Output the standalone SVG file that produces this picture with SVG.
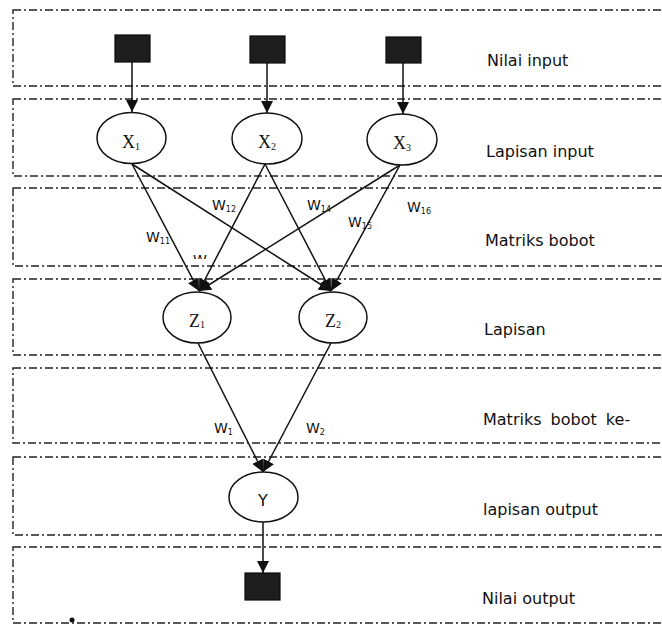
<svg xmlns="http://www.w3.org/2000/svg" width="662" height="626" viewBox="0 0 662 626">
<style>
.band{fill:none;stroke:#222;stroke-width:1.4;stroke-dasharray:8 3 2 3}
.node{fill:#fff;stroke:#111;stroke-width:1.5}
.sq{fill:#1e1e1e;stroke:#0a0a0a;stroke-width:1.2}
.conn{stroke:#111;stroke-width:1.5;fill:none}
.lbl{font-family:"DejaVu Sans","Liberation Sans",sans-serif;font-size:16px;fill:#111}
.ser{font-family:"Liberation Serif","DejaVu Serif",serif;font-size:18px;fill:#111}
.sub{font-size:10px}
.w{font-family:"DejaVu Sans","Liberation Sans",sans-serif;font-size:14px;fill:#111}
.ws{font-size:8px}
</style>
<defs>
<marker id="ah" viewBox="0 0 10 10" refX="10" refY="5" markerWidth="12" markerHeight="12" markerUnits="userSpaceOnUse" orient="auto">
<path d="M0,0 L10,5 L0,10 z" fill="#111"/>
</marker>
<clipPath id="cw"><rect x="185" y="250" width="30" height="9"/></clipPath>
</defs>
<rect width="662" height="626" fill="#fff"/>
<g id="bands">
<rect class="band" x="13" y="10" width="670" height="76"/>
<rect class="band" x="13" y="99" width="670" height="77"/>
<rect class="band" x="13" y="188" width="670" height="78"/>
<rect class="band" x="13" y="279" width="670" height="76"/>
<rect class="band" x="13" y="368" width="670" height="75"/>
<rect class="band" x="13" y="457" width="670" height="78"/>
<rect class="band" x="13" y="547" width="670" height="76"/>
<circle cx="72" cy="620" r="2.5" fill="#111"/>
</g>
<g id="band-labels">
<text class="lbl" x="487" y="66">Nilai input</text>
<text class="lbl" x="486" y="157">Lapisan input</text>
<text class="lbl" x="485" y="246">Matriks bobot</text>
<text class="lbl" x="484" y="335">Lapisan</text>
<text class="lbl" x="483" y="425" word-spacing="4">Matriks bobot ke-</text>
<text class="lbl" x="483" y="515">lapisan output</text>
<text class="lbl" x="482" y="604">Nilai output</text>
</g>
<g id="connectors">
<line class="conn" x1="132" y1="62" x2="132" y2="112" marker-end="url(#ah)"/>
<line class="conn" x1="267" y1="63" x2="267" y2="113" marker-end="url(#ah)"/>
<line class="conn" x1="403" y1="63" x2="403" y2="114" marker-end="url(#ah)"/>
<line class="conn" x1="132" y1="164" x2="199" y2="291" marker-end="url(#ah)"/>
<line class="conn" x1="132" y1="164" x2="331" y2="291" marker-end="url(#ah)"/>
<line class="conn" x1="265" y1="164" x2="199" y2="291" marker-end="url(#ah)"/>
<line class="conn" x1="265" y1="164" x2="331" y2="291" marker-end="url(#ah)"/>
<line class="conn" x1="400" y1="165" x2="199" y2="291" marker-end="url(#ah)"/>
<line class="conn" x1="400" y1="165" x2="331" y2="291" marker-end="url(#ah)"/>
<line class="conn" x1="198" y1="343" x2="263" y2="472" marker-end="url(#ah)"/>
<line class="conn" x1="331" y1="343" x2="263" y2="472" marker-end="url(#ah)"/>
<line class="conn" x1="263" y1="522" x2="263" y2="573" marker-end="url(#ah)"/>
</g>
<g id="weight-labels">
<text class="w" x="146" y="242">W<tspan class="ws" dy="2">11</tspan></text>
<text class="w" x="212" y="210">W<tspan class="ws" dy="2">12</tspan></text>
<text class="w" x="307" y="210">W<tspan class="ws" dy="2">14</tspan></text>
<text class="w" x="348" y="227">W<tspan class="ws" dy="2">15</tspan></text>
<text class="w" x="407" y="212">W<tspan class="ws" dy="2">16</tspan></text>
<text class="w" x="193" y="265" font-size="11" clip-path="url(#cw)">W</text>
<text class="w" x="214" y="433">W<tspan class="ws" dy="2">1</tspan></text>
<text class="w" x="306" y="433">W<tspan class="ws" dy="2">2</tspan></text>
</g>
<g id="in1"><rect class="sq" x="115" y="35" width="35" height="27"/></g>
<g id="in2"><rect class="sq" x="250" y="36" width="35" height="27"/></g>
<g id="in3"><rect class="sq" x="386" y="37" width="35" height="26"/></g>
<g id="x1"><ellipse class="node" cx="131.5" cy="138" rx="34.5" ry="25.5"/><text class="ser" x="131" y="148" text-anchor="middle">X<tspan class="sub" dy="2">1</tspan></text></g>
<g id="x2"><ellipse class="node" cx="267" cy="138.5" rx="35" ry="25.5"/><text class="ser" x="267" y="148" text-anchor="middle">X<tspan class="sub" dy="2">2</tspan></text></g>
<g id="x3"><ellipse class="node" cx="402" cy="139.5" rx="35" ry="25.5"/><text class="ser" x="402" y="149" text-anchor="middle">X<tspan class="sub" dy="2">3</tspan></text></g>
<g id="z1"><ellipse class="node" cx="197" cy="317.5" rx="34" ry="25.5"/><text class="ser" x="197" y="327" text-anchor="middle">Z<tspan class="sub" dy="1">1</tspan></text></g>
<g id="z2"><ellipse class="node" cx="333" cy="317.5" rx="34" ry="25.5"/><text class="ser" x="333" y="327" text-anchor="middle">Z<tspan class="sub" dy="1">2</tspan></text></g>
<g id="y"><ellipse class="node" cx="263.5" cy="497" rx="34.5" ry="25"/><text class="lbl" x="263" y="506" text-anchor="middle">Y</text></g>
<g id="out"><rect class="sq" x="245" y="573" width="35" height="27"/></g>
</svg>
